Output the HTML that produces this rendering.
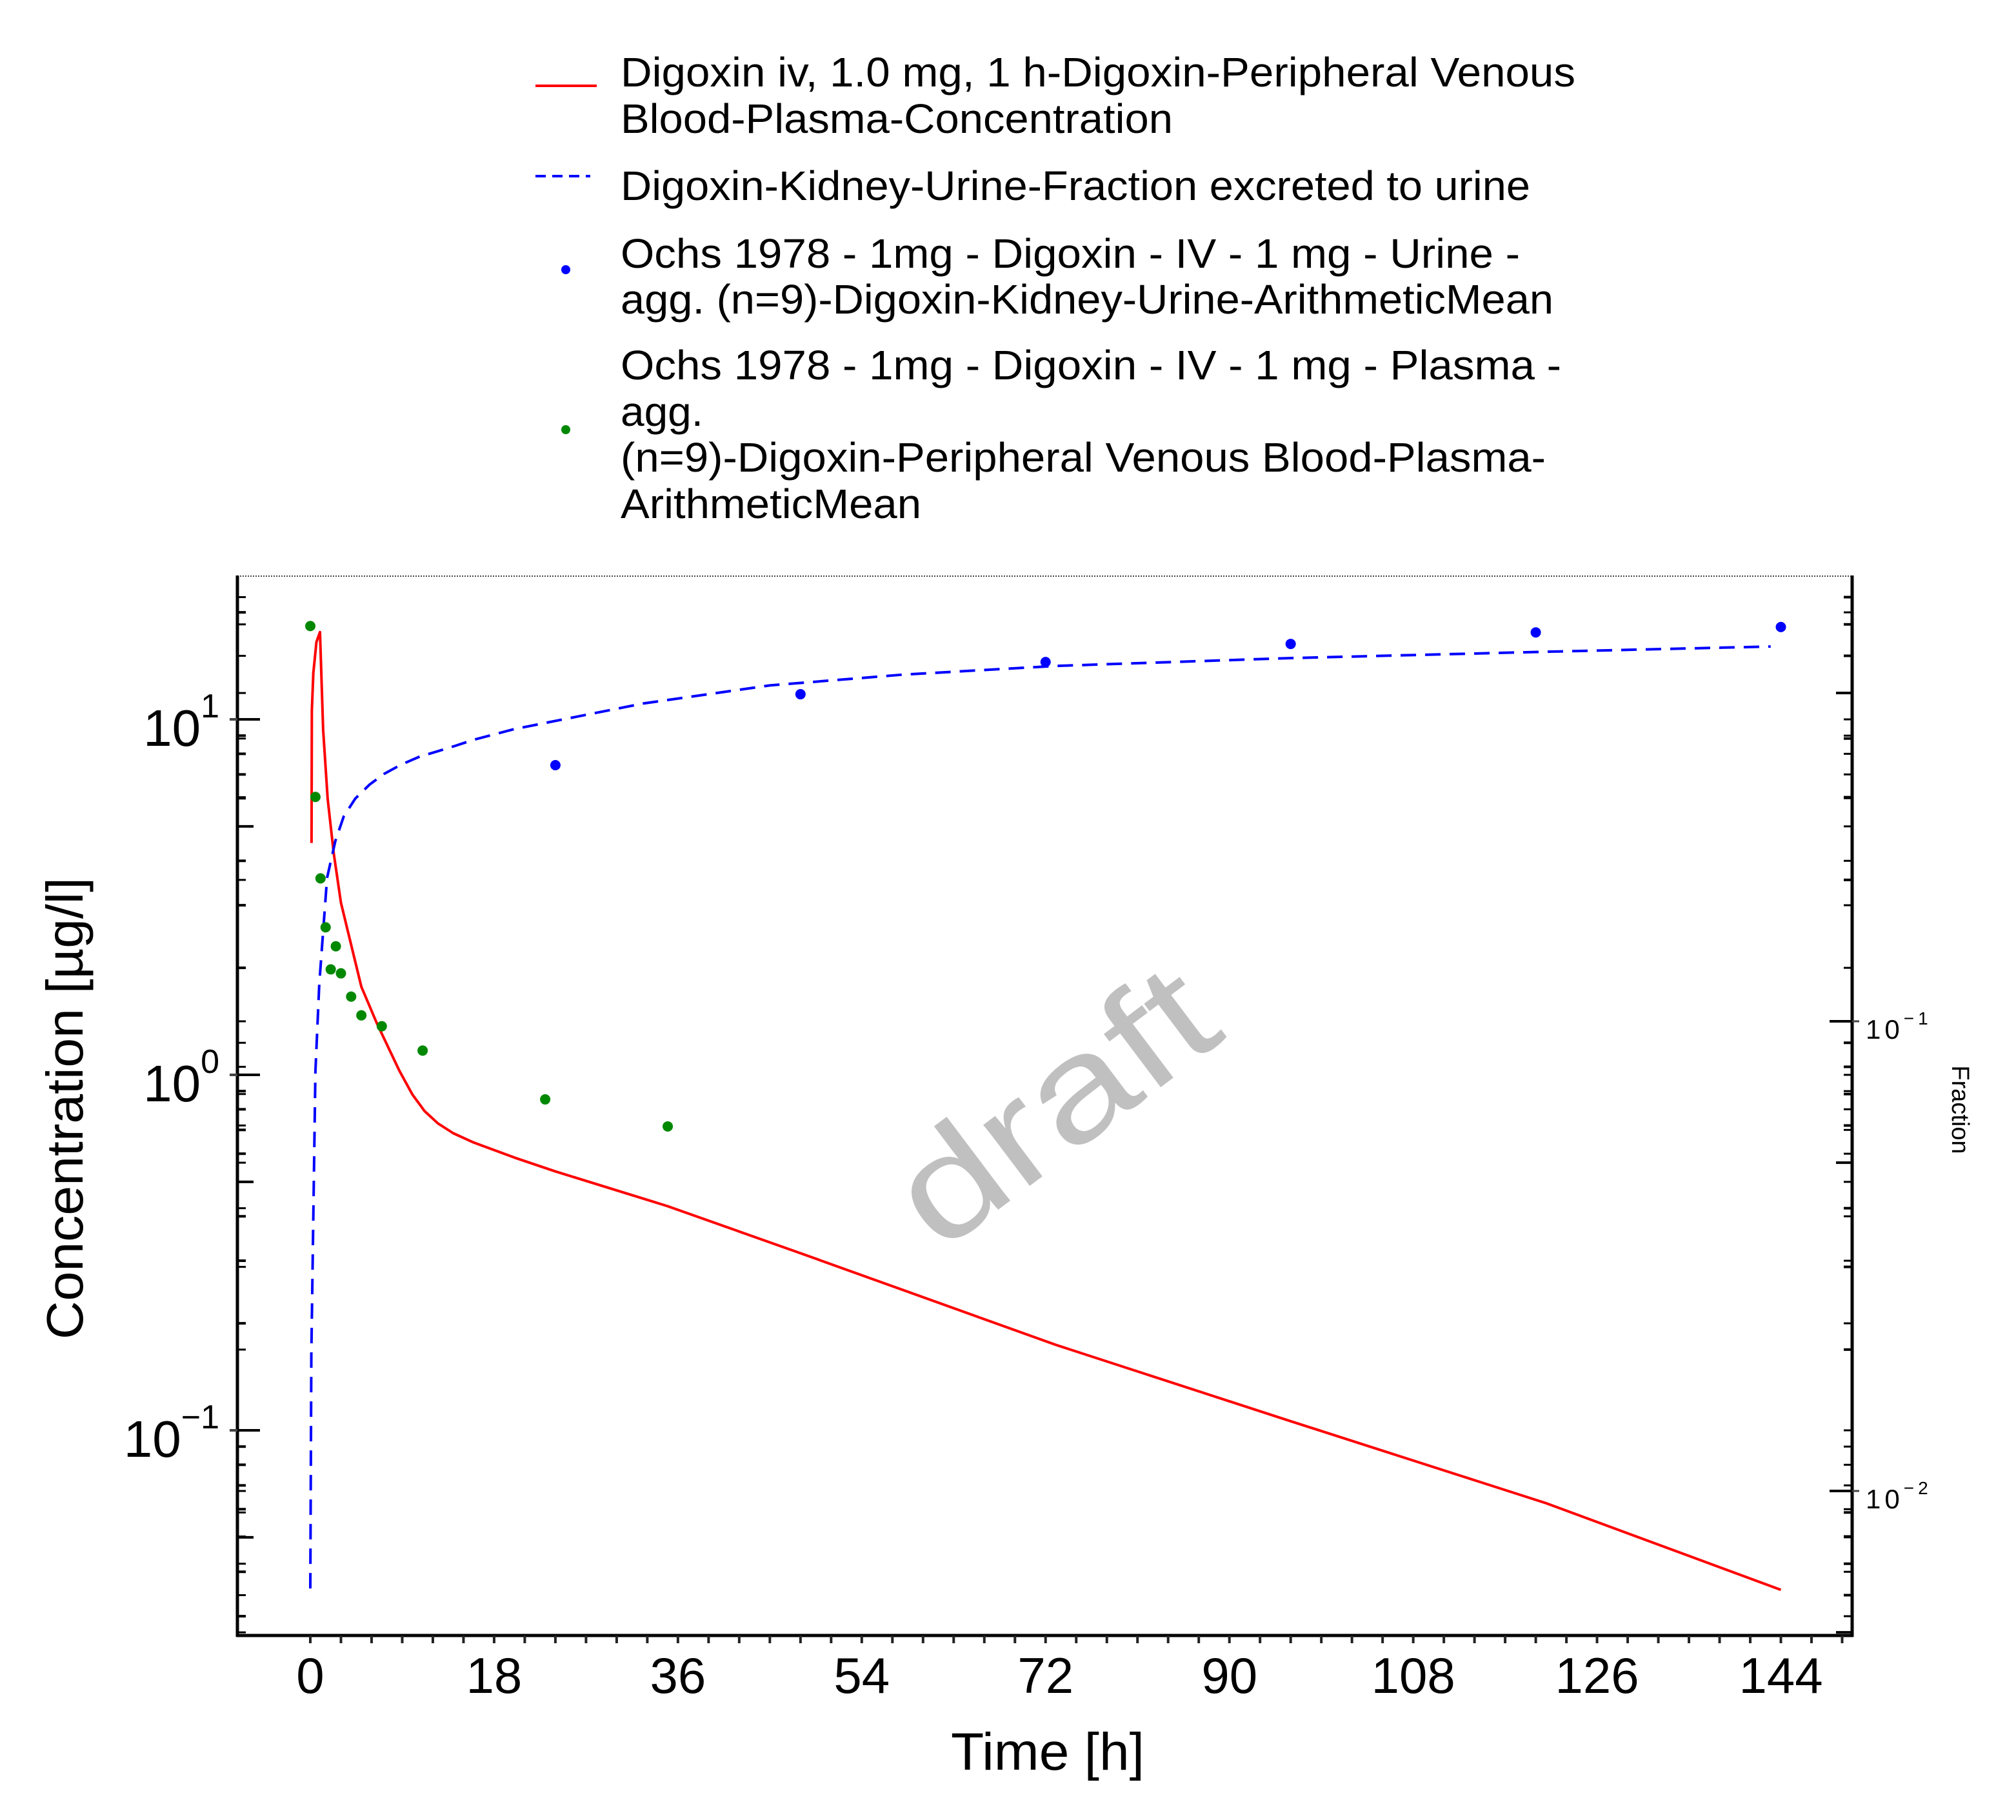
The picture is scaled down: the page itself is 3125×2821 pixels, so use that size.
<!DOCTYPE html>
<html><head><meta charset="utf-8"><style>
html,body{margin:0;padding:0;background:#fff;}
svg{display:block;font-family:"Liberation Sans",sans-serif;}
</style></head><body>
<svg id="chart" xmlns="http://www.w3.org/2000/svg" width="3125" height="2821" viewBox="0 0 3125 2821">
<rect x="0" y="0" width="3125" height="2821" fill="#fff"/>
<g id="legend">
 <g>
  <line x1="830" y1="133" x2="925" y2="133" stroke="#f00" stroke-width="4"/>
  <text x="962" y="134" font-size="64" textLength="1480" lengthAdjust="spacingAndGlyphs">Digoxin iv, 1.0 mg, 1 h-Digoxin-Peripheral Venous</text>
  <text x="962" y="206" font-size="64" textLength="856" lengthAdjust="spacingAndGlyphs">Blood-Plasma-Concentration</text>
 </g>
 <g>
  <line x1="830" y1="273" x2="915" y2="273" stroke="#00f" stroke-width="4" stroke-dasharray="16,10"/>
  <text x="962" y="310" font-size="64" textLength="1410" lengthAdjust="spacingAndGlyphs">Digoxin-Kidney-Urine-Fraction excreted to urine</text>
 </g>
 <g>
  <circle cx="877" cy="418" r="7" fill="#00f"/>
  <text x="962" y="415" font-size="64" textLength="1394" lengthAdjust="spacingAndGlyphs">Ochs 1978 - 1mg - Digoxin - IV - 1 mg - Urine -</text>
  <text x="962" y="486" font-size="64" textLength="1446" lengthAdjust="spacingAndGlyphs">agg. (n=9)-Digoxin-Kidney-Urine-ArithmeticMean</text>
 </g>
 <g>
  <circle cx="877" cy="666" r="7" fill="#080"/>
  <text x="962" y="588" font-size="64" textLength="1458" lengthAdjust="spacingAndGlyphs">Ochs 1978 - 1mg - Digoxin - IV - 1 mg - Plasma -</text>
  <text x="962" y="660" font-size="64" textLength="128" lengthAdjust="spacingAndGlyphs">agg.</text>
  <text x="962" y="731" font-size="64" textLength="1434" lengthAdjust="spacingAndGlyphs">(n=9)-Digoxin-Peripheral Venous Blood-Plasma-</text>
  <text x="962" y="803" font-size="64" textLength="466" lengthAdjust="spacingAndGlyphs">ArithmeticMean</text>
 </g>
</g>
<text x="0" y="0" font-size="225" fill="#c0c0c0" text-anchor="middle" textLength="560" lengthAdjust="spacingAndGlyphs" transform="translate(1680,1775) rotate(-37)">draft</text>
<g id="axes"></g>
<g id="series"></g>
<text x="0" y="0" font-size="80" text-anchor="middle" textLength="716" lengthAdjust="spacingAndGlyphs" transform="translate(128,1718) rotate(-90)">Concentration [µg/l]</text>
<text x="1624" y="2743" font-size="82" text-anchor="middle" textLength="300" lengthAdjust="spacingAndGlyphs">Time [h]</text>
<text x="0" y="0" font-size="38" text-anchor="middle" transform="translate(3026,1720) rotate(90)">Fraction</text>
</svg>
<script>
// ---- data ----
const plasmaSimT = [0.12,0.15,0.3,0.6,0.95,1.26,1.7,2.3,3.0,3.8,5.0,6.5,8.7,10,11.2,12.5,14,16,20,24,35,47.6,73,95.6,121,144];
const plasmaSimV = [4.49,10.6,13.5,16.5,17.6,9.35,5.98,4.19,3.05,2.45,1.77,1.40,1.03,0.88,0.79,0.73,0.685,0.645,0.585,0.535,0.427,0.318,0.174,0.107,0.0624,0.0356];
const urineSimT = [0,0.1,0.5,0.88,1.64,2.45,3.27,4.4,5.8,7.2,8.9,10.7,12.5,14.2,15.9,17.4,20,32.6,45,58,73,95.6,121,143];
const urineSimV = [0.0062,0.0195,0.078,0.120,0.202,0.242,0.273,0.298,0.319,0.336,0.352,0.366,0.376,0.386,0.397,0.405,0.419,0.475,0.519,0.547,0.571,0.593,0.612,0.628];
const urineObsT = [24,48,72,96,120,144];
const urineObsV = [0.351,0.497,0.582,0.636,0.673,0.691];
const plasmaObsT = [0,0.5,1,1.5,2,2.5,3,4,5,7,11,23,35];
const plasmaObsV = [18.3,6.05,3.57,2.6,1.98,2.3,1.93,1.66,1.47,1.37,1.17,0.853,0.716];
const xTicks = [0,18,36,54,72,90,108,126,144];
const yLeftDecades = [-1,0,1];
const yRightDecades = [-2,-1];

// ---- scales ----
const X0=481, PXH=15.83;
const xS = t => X0 + t*PXH;
const yL = v => 1115 - (Math.log10(v)-1)*551;
const yR = v => 1583 - (Math.log10(v)+1)*728;
const L=368, R=2871, T=892, B=2535;
const NS="http://www.w3.org/2000/svg";
function mk(tag, attrs, parent){const e=document.createElementNS(NS,tag);for(const k in attrs)e.setAttribute(k,attrs[k]);parent.appendChild(e);return e;}
const axes=document.getElementById('axes'), series=document.getElementById('series');

const defs=mk('defs',{},document.getElementById('chart'));
const cp=mk('clipPath',{id:'plotclip'},defs);
mk('rect',{x:L,y:T,width:R-L,height:B-T},cp);

let f;
f=mk('line',{x1:L,y1:T+1,x2:R,y2:T+1,stroke:'#444','stroke-width':2,'stroke-dasharray':'2,2'},axes);


f=mk('line',{x1:L,y1:T,x2:L,y2:B+2,stroke:'#000','stroke-width':5},axes);


f=mk('line',{x1:L-2,y1:B,x2:R+2,y2:B,stroke:'#000','stroke-width':5},axes);


f=mk('line',{x1:R,y1:T,x2:R,y2:B+2,stroke:'#000','stroke-width':5},axes);



for(let t=0;t<=150;t+=3){
  const x=xS(t); if(x>R) break;
  const tk=mk('line',{x1:x,y1:B,x2:x,y2:B+12,stroke:'#222','stroke-width':4},axes);
  
  
}
xTicks.forEach(t=>{
  const lb=mk('text',{x:xS(t),y:2624,'font-size':78,'text-anchor':'middle'},axes);
  lb.textContent=String(t);
  
  
});

for(let d=-2;d<=1;d++){
  for(let m=1;m<=9;m++){
    const v=m*Math.pow(10,d), y=yL(v);
    if(y<T||y>B) continue;
    const len = m===1?35:(m===5?25:13);
    let tk=mk('line',{x1:L,y1:y,x2:L+len,y2:y,stroke:'#000','stroke-width':4},axes);
    
    
    tk=mk('line',{x1:R-13,y1:y,x2:R,y2:y,stroke:'#000','stroke-width':3},axes);
    
    
  }
}
for(let d=-3;d<=0;d++){
  for(let m=1;m<=9;m++){
    const v=m*Math.pow(10,d), y=yR(v);
    if(y<T||y>B) continue;
    const len = m===1?35:(m===5?25:13);
    let tk=mk('line',{x1:R-len,y1:y,x2:R,y2:y,stroke:'#000','stroke-width':4},axes);
    
    
    tk=mk('line',{x1:L,y1:y,x2:L+13,y2:y,stroke:'#000','stroke-width':3},axes);
    
    
  }
}
yLeftDecades.forEach(d=>{
  const y=yL(Math.pow(10,d));
  const g=mk('line',{x1:L-12,y1:y,x2:L,y2:y,stroke:'#444','stroke-width':4},axes);
  
  
  const lb=mk('text',{x:340,y:y+41,'font-size':80,'text-anchor':'end'},axes);
  
  
  const base=document.createElementNS(NS,'tspan'); base.textContent='10'; lb.appendChild(base);
  const sup=document.createElementNS(NS,'tspan'); sup.setAttribute('dy','-44'); sup.setAttribute('font-size','52');
  sup.textContent=(d<0?'\u2212':'')+Math.abs(d); lb.appendChild(sup);
});
yRightDecades.forEach(d=>{
  const y=yR(Math.pow(10,d));
  const g=mk('line',{x1:R,y1:y,x2:R+11,y2:y,stroke:'#444','stroke-width':3},axes);
  
  
  const lb=mk('text',{x:2892,y:y+27,'font-size':42,'letter-spacing':'6'},axes);
  
  
  const base=document.createElementNS(NS,'tspan'); base.textContent='10'; lb.appendChild(base);
  const sup=document.createElementNS(NS,'tspan'); sup.setAttribute('dy','-22'); sup.setAttribute('font-size','28');
  sup.textContent=(d<0?'\u2212':'')+Math.abs(d); lb.appendChild(sup);
});

const cg=mk('g',{'clip-path':'url(#plotclip)'},series);
let pts=plasmaSimT.map((t,i)=>xS(t).toFixed(1)+','+yL(plasmaSimV[i]).toFixed(1)).join(' ');
let pl=mk('polyline',{points:pts,fill:'none',stroke:'#f00','stroke-width':4,'stroke-linejoin':'round'},cg);


pts=urineSimT.map((t,i)=>xS(t).toFixed(1)+','+yR(urineSimV[i]).toFixed(1)).join(' ');
pl=mk('polyline',{points:pts,fill:'none',stroke:'#00f','stroke-width':4,'stroke-dasharray':'24,14'},cg);


urineObsT.forEach((t,i)=>{
  const c=mk('circle',{cx:xS(t),cy:yR(urineObsV[i]),r:8,fill:'#00f'},cg);
  
  
});
plasmaObsT.forEach((t,i)=>{
  const c=mk('circle',{cx:xS(t),cy:yL(plasmaObsV[i]),r:8,fill:'#080'},cg);
  
  
});
</script>
</body></html>
